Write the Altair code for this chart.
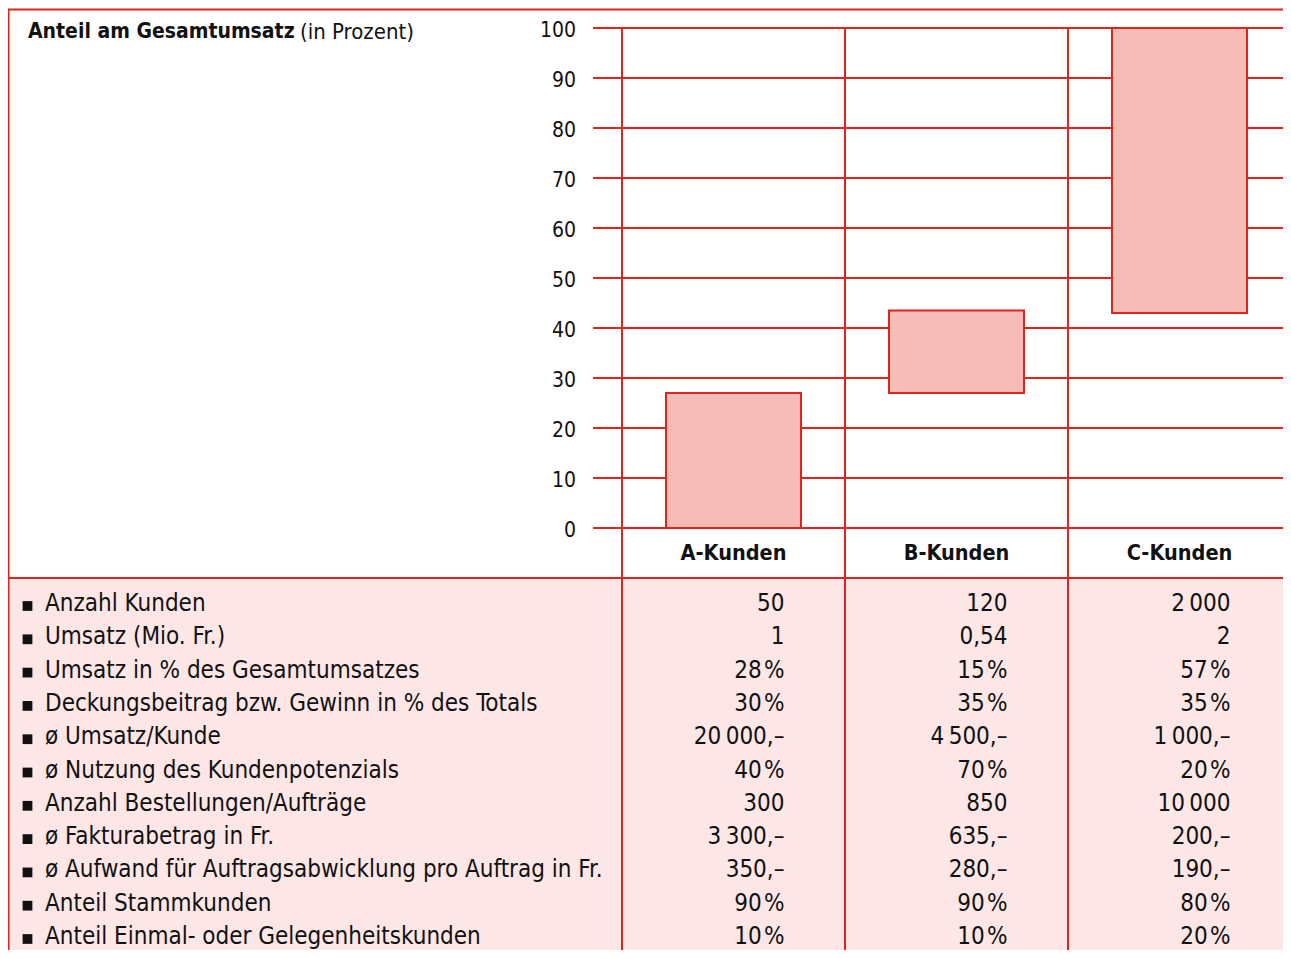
import altair as alt
import pandas as pd

# ---------------- data ----------------
categories = ["A-Kunden", "B-Kunden", "C-Kunden"]
share_start = [0, 27, 43]
share_end = [27, 43.5, 100]
y_ticks = [0, 10, 20, 30, 40, 50, 60, 70, 80, 90, 100]

row_labels = [
    "Anzahl Kunden",
    "Umsatz (Mio. Fr.)",
    "Umsatz in % des Gesamtumsatzes",
    "Deckungsbeitrag bzw. Gewinn in % des Totals",
    "ø Umsatz/Kunde",
    "ø Nutzung des Kundenpotenzials",
    "Anzahl Bestellungen/Aufträge",
    "ø Fakturabetrag in Fr.",
    "ø Aufwand für Auftragsabwicklung pro Auftrag in Fr.",
    "Anteil Stammkunden",
    "Anteil Einmal- oder Gelegenheitskunden",
]
values_a = ["50", "1", "28\u200a%", "30\u200a%", "20\u2009000,–", "40\u200a%", "300", "3\u2009300,–", "350,–", "90\u200a%", "10\u200a%"]
values_b = ["120", "0,54", "15\u200a%", "35\u200a%", "4\u2009500,–", "70\u200a%", "850", "635,–", "280,–", "90\u200a%", "10\u200a%"]
values_c = ["2\u2009000", "2", "57\u200a%", "35\u200a%", "1\u2009000,–", "20\u200a%", "10\u2009000", "200,–", "190,–", "80\u200a%", "20\u200a%"]

# ---------------- styling ----------------
RED = "#e2231a"
BAR_FILL = "#f6bdb8"
TABLE_BG = "#fce6e6"
FONT = "DejaVu Sans Condensed, Liberation Sans Narrow, Roboto Condensed, sans-serif"
W, H = 1275, 942

bars_df = pd.DataFrame({"cat": categories, "start": share_start, "end": share_end})
ticks_df = pd.DataFrame({"v": y_ticks})
cat_df = pd.DataFrame({"cat": categories})
rows_df = pd.DataFrame({"row": list(range(len(row_labels))), "label": row_labels})
vals_df = pd.DataFrame({
    "cat": [c for c in categories for _ in row_labels],
    "row": list(range(len(row_labels))) * 3,
    "val": values_a + values_b + values_c,
})

yscale = alt.Scale(domain=[0, 100], range=[520, 20])
xscale = alt.Scale(domain=categories, range=[614, 1283], paddingInner=0, paddingOuter=0)
rowscale = alt.Scale(domain=[0, 10], range=[594, 927])

one = cat_df.head(1)

# table background
bg = alt.Chart(one).mark_rect(color=TABLE_BG).encode(
    x=alt.value(1), x2=alt.value(W), y=alt.value(571), y2=alt.value(H)
)

# frame lines
top_line = alt.Chart(one).mark_rule(color=RED, strokeWidth=2).encode(
    x=alt.value(0), x2=alt.value(W), y=alt.value(1.5)
)
left_line = alt.Chart(one).mark_rule(color=RED, strokeWidth=2).encode(
    x=alt.value(0.5), y=alt.value(1), y2=alt.value(H)
)
sep_line = alt.Chart(one).mark_rule(color=RED, strokeWidth=2).encode(
    x=alt.value(0), x2=alt.value(W), y=alt.value(570)
)

# grid lines
grid = alt.Chart(ticks_df).mark_rule(color=RED, strokeWidth=2).encode(
    y=alt.Y("v:Q", scale=yscale, axis=None),
    x=alt.value(585), x2=alt.value(W),
)

# vertical column separators
vlines = alt.Chart(cat_df).mark_rule(color=RED, strokeWidth=2).encode(
    x=alt.X("cat:N", scale=xscale, axis=None, bandPosition=0),
    y=alt.value(20), y2=alt.value(H),
)

# bars
bars = alt.Chart(bars_df).mark_bar(fill=BAR_FILL, stroke=RED, strokeWidth=2, width=135).encode(
    x=alt.X("cat:N", scale=xscale, axis=None),
    y=alt.Y("start:Q", scale=yscale, axis=None),
    y2="end:Q",
)

# y tick labels
ylabels = alt.Chart(ticks_df).mark_text(
    align="right", baseline="middle", font=FONT, fontSize=21, color="#111", dy=3
).encode(
    y=alt.Y("v:Q", scale=yscale, axis=None),
    x=alt.value(568),
    text="v:Q",
)

# category labels
catlabels = alt.Chart(cat_df).mark_text(
    align="center", baseline="middle", font=FONT, fontSize=21.5, fontWeight="bold", color="#111", dy=2
).encode(
    x=alt.X("cat:N", scale=xscale, axis=None),
    y=alt.value(544),
    text="cat:N",
)

# title
title_bold = alt.Chart(pd.DataFrame({"t": ["Anteil am Gesamtumsatz"]})).mark_text(
    align="left", baseline="middle", font=FONT, fontSize=21, fontWeight="bold", color="#111", dy=2
).encode(x=alt.value(20), y=alt.value(22), text="t:N")
title_reg = alt.Chart(pd.DataFrame({"t": ["(in Prozent)"]})).mark_text(
    align="left", baseline="middle", font=FONT, fontSize=22, color="#111", dy=2
).encode(x=alt.value(292), y=alt.value(22), text="t:N")

# table: bullets, labels, values
bullets = alt.Chart(rows_df).mark_point(shape="square", filled=True, color="#111", size=95, opacity=1).encode(
    y=alt.Y("row:Q", scale=rowscale, axis=None),
    x=alt.value(19.5),
    yOffset=alt.value(4),
)
labels = alt.Chart(rows_df).mark_text(
    align="left", baseline="middle", font=FONT, fontSize=24, color="#111", dy=2
).encode(
    y=alt.Y("row:Q", scale=rowscale, axis=None),
    x=alt.value(37),
    text="label:N",
)
vals = alt.Chart(vals_df).mark_text(
    align="right", baseline="middle", font=FONT, fontSize=24, color="#111", dx=51, dy=2
).encode(
    x=alt.X("cat:N", scale=xscale, axis=None),
    y=alt.Y("row:Q", scale=rowscale, axis=None),
    text="val:N",
)

chart = alt.layer(
    bg, grid, vlines, bars, top_line, left_line, sep_line,
    ylabels, catlabels, title_bold, title_reg, bullets, labels, vals,
).resolve_scale(y="independent", x="independent").properties(
    width=W, height=H, padding=0, autosize=alt.AutoSizeParams(type="none"),
).configure_view(stroke=None)

chart.save("out.html", embed_options={"renderer": "svg", "actions": False})
